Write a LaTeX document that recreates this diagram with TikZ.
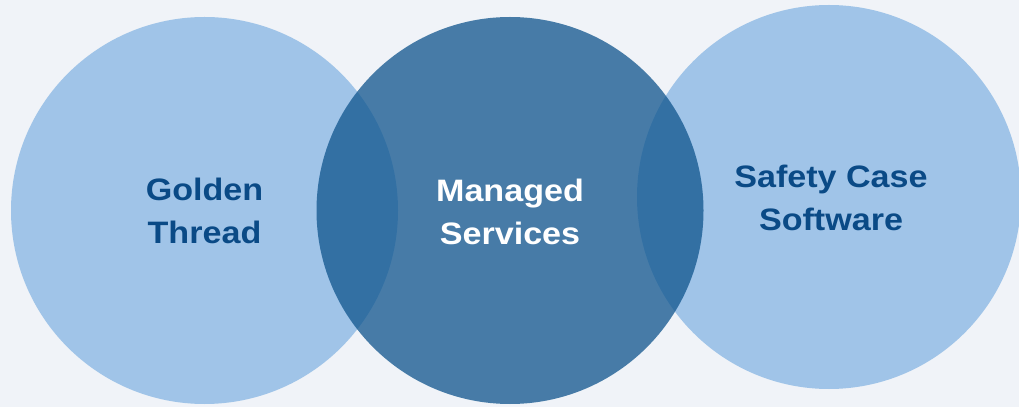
\documentclass[tikz,border=0pt]{standalone}
\usepackage{fontspec}
\setmainfont{Liberation Sans}[FakeStretch=1.1]
\definecolor{bgc}{RGB}{240,243,248}
\definecolor{lightc}{RGB}{160,196,232}
\definecolor{midc}{RGB}{15,84,141}
\definecolor{darktext}{RGB}{10,74,134}
\tikzset{
  lightcircle/.style={circle, fill=lightc, draw=none, inner sep=0pt},
  midcircle/.style={circle, fill=midc, fill opacity=0.75, draw=none, inner sep=0pt},
  label/.style={align=center, font=\fontsize{31}{43}\selectfont\bfseries, inner sep=0pt},
}
\begin{document}
\begin{tikzpicture}[x=1pt,y=1pt]
\useasboundingbox (0,0) rectangle (1019,407);
\fill[bgc] (0,0) rectangle (1019,407);
\begin{scope}
\clip (0,0) rectangle (1019,407);
\node[lightcircle, minimum size=387pt] (gt) at (204.5,196.5) {};
\node[lightcircle, minimum size=384pt] (sc) at (829,210) {};
\node[midcircle, minimum size=387pt] (ms) at (510,196.5) {};
\end{scope}
\node[label, text=darktext] (gtl) at (204.5,196) {Golden\\Thread};
\node[label, text=white] (msl) at (510,195) {Managed\\Services};
\node[label, text=darktext] (scl) at (831,209) {Safety Case\\Software};
\end{tikzpicture}
\end{document}
